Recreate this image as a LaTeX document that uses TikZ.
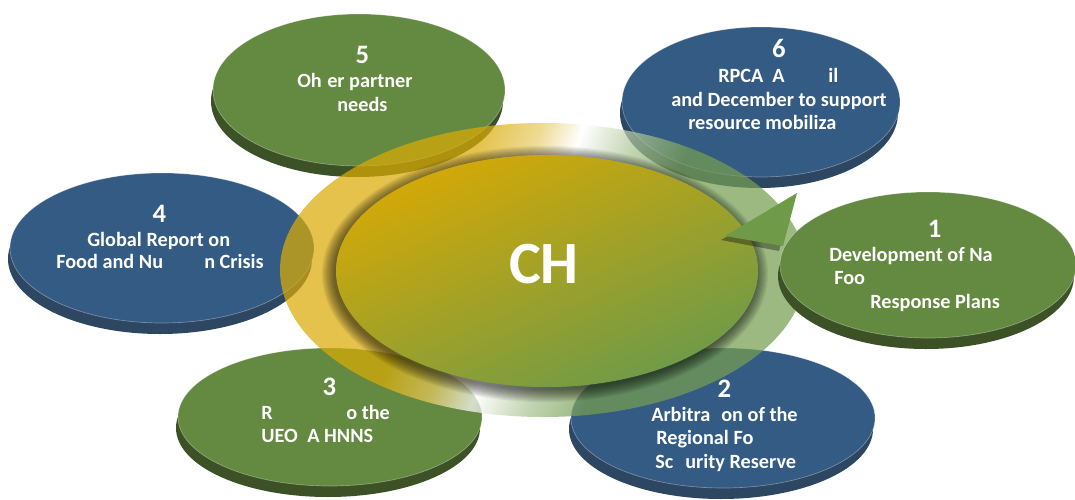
\documentclass[tikz,border=0pt]{standalone}
\usepackage{fontspec}
\setmainfont{Carlito}
\usetikzlibrary{shapes.geometric}
\definecolor{ngreen}{HTML}{648940}
\definecolor{ngreenrim}{HTML}{3C5226}
\definecolor{nblue}{HTML}{335B83}
\definecolor{nbluerim}{HTML}{2D4662}
\definecolor{ringY}{HTML}{DAAB06}
\definecolor{ringG}{HTML}{769E52}
\colorlet{ringYl}{ringY!60!white}
\colorlet{ringGl}{ringG!60!white}
\definecolor{chgold}{HTML}{D6A905}
\definecolor{chgreen}{HTML}{6C9A4A}
\definecolor{arrowg}{HTML}{6F9A48}
\pgfdeclarehorizontalshading{ringshade}{100bp}{color(0bp)=(ringY); color(25bp)=(ringY); color(43bp)=(ringY); color(47bp)=(ringYl); color(50bp)=(white); color(54bp)=(ringGl); color(58bp)=(ringG); color(75bp)=(ringG); color(100bp)=(ringG)}
\tikzset{
  discnode/.style={ellipse, inner sep=0pt, outer sep=0pt, draw=white, draw opacity=.35, line width=.5pt},
  txt/.style={text=white, font=\bfseries\fontsize{15.2}{17}\selectfont, inner sep=0pt, anchor=base west},
  num/.style={text=white, font=\bfseries\fontsize{20}{22}\selectfont, inner sep=0pt, anchor=base},
  bigtxt/.style={text=white, font=\bfseries\fontsize{45}{50}\selectfont, inner sep=0pt, anchor=base},
}
% name, cx, cy, rx, ry, colour
\newcommand\discshape[6]{%
  \fill[#6rim] (#2-2,#3+11) ellipse [x radius=#4, y radius=#5];
  \fill[#6rim] (#2-#4,#3) -- (#2+#4,#3) -- (#2+#4-2,#3+11) -- (#2-#4-2,#3+11) -- cycle;
  \node[discnode, fill=#6, minimum width={#4*1.5pt}, minimum height={#5*1.5pt}] (#1) at (#2,#3) {};
}
\begin{document}
\begin{tikzpicture}[x=0.75pt,y=-0.75pt]
\useasboundingbox (0,0) rectangle (1075,500);
\fill[white] (0,0) rectangle (1075,500);

% ---- outer discs (under the ring)
\discshape{d5}{359}{90}{146}{76}{ngreen}
\discshape{d6}{761}{102}{139}{75}{nblue}
\discshape{d4}{162}{248}{152}{75}{nblue}
\discshape{d3}{330}{417}{152}{69}{ngreen}
\discshape{d2}{723}{418}{152}{70}{nblue}

% texts of discs
\node[num] (n5) at (362.5,63) {5};
\node[txt] (t5a) at (297,87) {Oh};
\node[txt] (t5b) at (327,87) {er partner};
\node[txt] (t5c) at (337,111) {needs};

\node[num] (n6) at (779,57) {6};
\node[txt] (t6a) at (718,82) {RPCA};
\node[txt] (t6b) at (772,82) {A};
\node[txt] (t6c) at (828,82) {il};
\node[txt] (t6d) at (671,106) {and December to support};
\node[txt] (t6e) at (688,129) {resource mobiliza};

\node[num] (n4) at (159.5,222) {4};
\node[txt] (t4a) at (87,246) {Global Report on};
\node[txt] (t4b) at (56,268) {Food and Nu};
\node[txt] (t4c) at (204,268) {n Crisis};

\node[num] (n3) at (329.5,395) {3};
\node[txt] (t3a) at (261,419) {R};
\node[txt] (t3b) at (346,419) {o the};
\node[txt] (t3c) at (261,442) {UEO};
\node[txt] (t3d) at (307,442) {A HNNS};

\node[num] (n2) at (724.5,397) {2};
\node[txt] (t2a) at (651,421) {Arbitra};
\node[txt] (t2b) at (721,421) {on of the};
\node[txt] (t2c) at (656,444) {Regional Fo};
\node[txt] (t2d) at (655,468) {Sc};
\node[txt] (t2e) at (685,468) {urity Reserve};

% ---- translucent ring
\begin{scope}[even odd rule]
  \clip (543,270) ellipse [x radius=263, y radius=147]
        (547,271) ellipse [x radius=211, y radius=116];
  \begin{scope}[transform canvas={shift={(526,270)}, rotate=-22}]
    \shade[shading=ringshade, opacity=.72] (-330,-260) rectangle (330,260);
  \end{scope}
\end{scope}

% ---- shadow of the centre ellipse
\foreach \k in {0,...,11}
  \fill[black, opacity=.055] (545,274) ellipse [x radius=211+1.1*\k, y radius=116+1.1*\k];

% ---- centre ellipse
\begin{scope}
  \clip (547,271) ellipse [x radius=211, y radius=116];
  \begin{scope}[transform canvas={shift={(547,271)}, rotate=-66}]
    \shade[left color=chgold, right color=chgreen] (-150,-260) rectangle (150,260);
  \end{scope}
\end{scope}
\node[bigtxt] (ch) at (544,283) {CH};

% ---- disc 1 (above the ring)
\discshape{d1}{928}{265}{148}{73}{ngreen}
\node[num] (n1) at (934.5,237) {1};
\node[txt] (t1a) at (829,261) {Development of Na};
\node[txt] (t1b) at (834,284) {Foo};
\node[txt] (t1c) at (870,308) {Response Plans};

% ---- arrow head of the ring
\fill[black, opacity=.35] (793,200) -- (721,240) -- (779,251) -- cycle;
\fill[arrowg] (797,193) -- (725,236) -- (783,246) -- cycle;
\end{tikzpicture}
\end{document}
